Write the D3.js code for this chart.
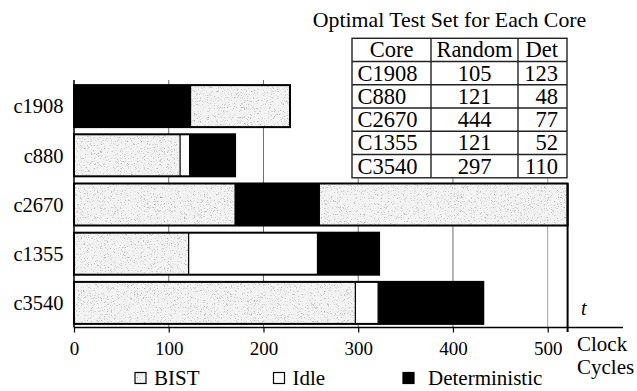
<!DOCTYPE html>
<html><head><meta charset="utf-8">
<script src="https://cdn.jsdelivr.net/npm/d3@7"></script>
<style>html,body{margin:0;padding:0;background:#fff}svg{display:block}</style>
</head><body>
<svg id="chart" width="637" height="391"></svg>
<script>
// ---- data ----
const cores = ["c1908", "c880", "c2670", "c1355", "c3540"];
const segTypes = [
  ["Det", "BIST"],
  ["BIST", "Idle", "Det"],
  ["BIST", "Det", "BIST"],
  ["BIST", "Idle", "Det"],
  ["BIST", "Idle", "Det"]
];
const segLengths = [
  [123, 105],
  [112, 10, 48],
  [170, 89, 262],
  [121, 136, 65],
  [297, 24, 111]
];
const xTicks = [0, 100, 200, 300, 400, 500];
const tEnd = 521;
const legendLabels = ["BIST", "Idle", "Deterministic"];
const legendTypes = ["BIST", "Idle", "Det"];
const tableTitle = "Optimal Test Set for Each Core";
const tableHeader = ["Core", "Random", "Det"];
const tableCores = ["C1908", "C880", "C2670", "C1355", "C3540"];
const tableRandom = [105, 121, 444, 121, 297];
const tableDet = [123, 48, 77, 52, 110];

// ---- setup ----
const svg = d3.select("#chart");
const FONT = "'Liberation Serif', 'Times New Roman', serif";
const x = d3.scaleLinear().domain([0, 500]).range([74, 547.7]);
const y = d3.scaleBand().domain(cores).range([81.5, 327.5]).paddingInner(0.146).paddingOuter(0.073);
const axisY = 327.5;

const defs = svg.append("defs");
const f = defs.append("filter").attr("id", "stipple")
  .attr("x", 0).attr("y", 0).attr("width", 1).attr("height", 1)
  .attr("color-interpolation-filters", "sRGB");
f.append("feFlood").attr("flood-color", "#f3f3f3").attr("result", "bg");
f.append("feTurbulence").attr("type", "fractalNoise").attr("baseFrequency", 1.7)
  .attr("numOctaves", 1).attr("seed", 7).attr("result", "noise");
f.append("feColorMatrix").attr("in", "noise").attr("type", "matrix")
  .attr("values", "0 0 0 0 0.55  0 0 0 0 0.55  0 0 0 0 0.55  3 0 0 0 -1.68")
  .attr("result", "dots");
const fm = f.append("feMerge").attr("result", "m");
fm.append("feMergeNode").attr("in", "bg");
fm.append("feMergeNode").attr("in", "dots");
f.append("feComposite").attr("in", "m").attr("in2", "SourceGraphic").attr("operator", "in");

const fillFor = t => t === "Det" ? "#000" : "#fff";

// gridlines
svg.append("g").selectAll("line").data(xTicks.filter(d => d > 0)).join("line")
  .attr("x1", d => x(d)).attr("x2", d => x(d))
  .attr("y1", 80).attr("y2", axisY)
  .attr("stroke", d => d === 500 ? "#a0a0a0" : "#6e6e6e").attr("stroke-width", 1);

// left line
svg.append("line").attr("x1", x(0)).attr("x2", x(0)).attr("y1", 80).attr("y2", axisY)
  .attr("stroke", "#000").attr("stroke-width", 1.5);

// bars
cores.forEach((c, i) => {
  const g = svg.append("g");
  let acc = 0;
  const segs = segLengths[i].map((len, j) => {
    const s = {type: segTypes[i][j], start: acc, end: acc + len};
    acc += len;
    return s;
  });
  g.selectAll("rect.seg").data(segs).join("rect").attr("class", "seg")
    .attr("x", d => x(d.start)).attr("width", d => x(d.end) - x(d.start))
    .attr("y", y(c)).attr("height", y.bandwidth())
    .attr("fill", d => fillFor(d.type))
    .attr("filter", d => d.type === "BIST" ? "url(#stipple)" : null);
  g.selectAll("line.div").data(segs.slice(1)).join("line").attr("class", "div")
    .attr("x1", d => x(d.start)).attr("x2", d => x(d.start))
    .attr("y1", y(c)).attr("y2", y(c) + y.bandwidth())
    .attr("stroke", "#000").attr("stroke-width", 1.2);
  g.append("rect").attr("x", x(0)).attr("width", x(acc) - x(0))
    .attr("y", y(c)).attr("height", y.bandwidth())
    .attr("fill", "none").attr("stroke", "#000").attr("stroke-width", 2);
  svg.append("text").attr("x", 63.5).attr("y", y(c) + y.bandwidth() / 2).attr("dy", "0.36em")
    .attr("text-anchor", "end").attr("font-family", FONT).attr("font-size", 20.5).text(c);
});

// t line
svg.append("line").attr("x1", x(tEnd)).attr("x2", x(tEnd)).attr("y1", y("c2670"))
  .attr("y2", 332).attr("stroke", "#000").attr("stroke-width", 2);

// x axis
svg.append("line").attr("x1", x(0)).attr("x2", 623).attr("y1", axisY).attr("y2", axisY)
  .attr("stroke", "#000").attr("stroke-width", 1.5);
const xa = d3.axisBottom(x).tickValues(xTicks).tickSize(5).tickPadding(9);
const ax = svg.append("g").attr("transform", `translate(0,${axisY})`).call(xa);
ax.select(".domain").remove();
ax.selectAll(".tick line").attr("stroke", "#000").attr("stroke-width", 1.2);
ax.selectAll(".tick text").attr("font-family", FONT).attr("font-size", 19).attr("fill", "#000");

svg.append("text").attr("x", 577).attr("y", 351).attr("font-family", FONT).attr("font-size", 21).text("Clock");
svg.append("text").attr("x", 577).attr("y", 374).attr("font-family", FONT).attr("font-size", 21).text("Cycles");
svg.append("text").attr("x", 581).attr("y", 315).attr("font-family", FONT).attr("font-size", 20)
  .attr("font-style", "italic").text("t");

// legend
const legX = [135, 273.5, 403];
legendLabels.forEach((lab, i) => {
  svg.append("rect").attr("x", legX[i]).attr("y", 372.5).attr("width", 11).attr("height", 11)
    .attr("fill", fillFor(legendTypes[i]))
    .attr("filter", legendTypes[i] === "BIST" ? "url(#stipple)" : null);
  svg.append("rect").attr("x", legX[i]).attr("y", 372.5).attr("width", 11).attr("height", 11)
    .attr("fill", "none").attr("stroke", "#000").attr("stroke-width", 1.2);
  svg.append("text").attr("x", legX[i] + (i === 2 ? 25 : 19)).attr("y", 385)
    .attr("font-family", FONT).attr("font-size", 21).text(lab);
});

// table
const tx = [352, 431, 518, 567];
const rowH = 23.25, tTop = 38.3;
const nRows = tableCores.length + 1;
svg.append("text").attr("x", 449.5).attr("y", 26.5).attr("text-anchor", "middle")
  .attr("font-family", FONT).attr("font-size", 21.8).text(tableTitle);
svg.append("rect").attr("x", tx[0]).attr("y", tTop).attr("width", tx[3] - tx[0])
  .attr("height", rowH * nRows).attr("fill", "#fff").attr("stroke", "#222").attr("stroke-width", 1.4);
for (let r = 1; r < nRows; r++) {
  svg.append("line").attr("x1", tx[0]).attr("x2", tx[3]).attr("y1", tTop + r * rowH).attr("y2", tTop + r * rowH)
    .attr("stroke", "#222").attr("stroke-width", 1.4);
}
[tx[1], tx[2]].forEach(cx => svg.append("line").attr("x1", cx).attr("x2", cx)
  .attr("y1", tTop).attr("y2", tTop + rowH * nRows).attr("stroke", "#222").attr("stroke-width", 1.4));
const cellText = (xx, r, txt, anchor) => svg.append("text").attr("x", xx).attr("y", tTop + r * rowH + 19)
  .attr("text-anchor", anchor).attr("font-family", FONT).attr("font-size", 22.5).text(txt);
cellText((tx[0] + tx[1]) / 2, 0, tableHeader[0], "middle");
cellText((tx[1] + tx[2]) / 2, 0, tableHeader[1], "middle");
cellText(tx[3] - 9, 0, tableHeader[2], "end");
tableCores.forEach((c, i) => {
  cellText(tx[0] + 5.5, i + 1, c, "start");
  cellText((tx[1] + tx[2]) / 2, i + 1, tableRandom[i], "middle");
  cellText(tx[3] - 9, i + 1, tableDet[i], "end");
});
</script>
</body></html>
